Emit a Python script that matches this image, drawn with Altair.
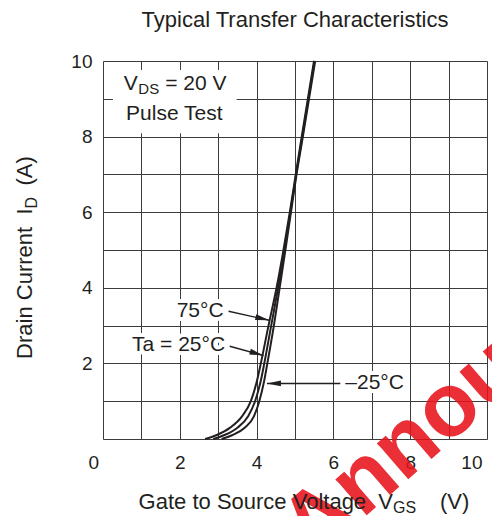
import altair as alt
import pandas as pd

# ---------------- data ----------------
current_a = [0.0, 0.1, 0.3, 0.6, 1.0, 1.5, 2.0, 3.0, 4.0, 5.0, 6.0, 7.0, 8.0, 9.0, 10.0]
vgs_75c = [2.66, 2.95, 3.31, 3.62, 3.85, 4.00, 4.11, 4.31, 4.52, 4.70, 4.865, 5.02, 5.175, 5.335, 5.495]
vgs_25c = [2.87, 3.15, 3.50, 3.78, 3.96, 4.10, 4.20, 4.38, 4.56, 4.73, 4.88, 5.03, 5.19, 5.35, 5.51]
vgs_m25c = [3.09, 3.36, 3.69, 3.93, 4.07, 4.19, 4.28, 4.45, 4.60, 4.75, 4.895, 5.04, 5.205, 5.365, 5.525]
series_names = ["75°C", "25°C", "-25°C"]

x_ticks = list(range(0, 11))
y_ticks = list(range(0, 11))

# curve annotations
label_text = ["75°C", "Ta = 25°C", "–25°C"]
label_v = [3.14, 3.18, 6.31]
label_i = [3.39, 2.49, 1.49]
label_align = ["right", "right", "left"]
arrow_v0 = [3.27, 3.30, 6.18]
arrow_i0 = [3.38, 2.455, 1.47]
arrow_v1 = [4.33, 4.18, 4.27]
arrow_i1 = [3.14, 2.21, 1.47]
arrow_angle = [12.7, 15.6, 180.0]

# condition box
box_v = [0.26]
box_v2 = [3.48]
box_i = [8.09]
box_i2 = [9.76]

watermark_text = ["Announcement"]

INK = "#231f20"
GRID = "#3c3c3c"
FONT = "Liberation Sans"

# ---------------- tables ----------------
rows = []
for name, vs in zip(series_names, [vgs_75c, vgs_25c, vgs_m25c]):
    for v, i in zip(vs, current_a):
        rows.append({"series": name, "vgs": v, "id": i})
curves_df = pd.DataFrame(rows)

labels_df = pd.DataFrame({"t": label_text, "vgs": label_v, "id": label_i, "al": label_align})
arrows_df = pd.DataFrame({"vgs": arrow_v0, "id": arrow_i0, "vgs2": arrow_v1,
                          "id2": arrow_i1, "ang": arrow_angle})
box_df = pd.DataFrame({"vgs": box_v, "vgs2": box_v2, "id": box_i, "id2": box_i2})

xscale = alt.Scale(domain=[0, 10], nice=False, zero=False)
yscale = alt.Scale(domain=[0, 10], nice=False, zero=False)

xaxis = alt.Axis(values=x_ticks, labelExpr="datum.value % 2 == 0 ? datum.label : ''",
                 grid=True, ticks=False, tickSize=0, domain=False,
                 labelFontSize=19, labelPadding=14, labelColor=INK, labelFont=FONT,
                 gridColor=GRID, gridWidth=1, gridOpacity=1,
                 labelOffset={"condition": [{"test": "datum.value == 0", "value": -15},
                                            {"test": "datum.value == 10", "value": -5}],
                              "value": 0})
yaxis = alt.Axis(values=y_ticks,
                 labelExpr="datum.value > 0 && datum.value % 2 == 0 ? datum.label : ''",
                 grid=True, ticks=False, tickSize=0, domain=False,
                 labelFontSize=19, labelPadding=11, labelColor=INK, labelFont=FONT,
                 gridColor=GRID, gridWidth=1, gridOpacity=1)

X = alt.X("vgs:Q", scale=xscale, axis=xaxis, title=None)
Y = alt.Y("id:Q", scale=yscale, axis=yaxis, title=None)

curves = alt.Chart(curves_df).mark_line(color=INK, strokeWidth=2, interpolate="monotone").encode(
    x=X, y=Y, detail="series:N")

box = alt.Chart(box_df).mark_rect(color="white", opacity=1).encode(
    x=X, x2="vgs2:Q", y=Y, y2="id2:Q")

arrow_lines = alt.Chart(arrows_df).mark_rule(color=INK, strokeWidth=1.4).encode(
    x=X, y=Y, x2="vgs2:Q", y2="id2:Q")

arrow_heads = alt.Chart(arrows_df).mark_point(
    shape="M0,0L-2,-0.42L-2,0.42Z", filled=True, size=196, color=INK, opacity=1, strokeWidth=0
).encode(x=alt.X("vgs2:Q", scale=xscale, axis=xaxis, title=None),
         y=alt.Y("id2:Q", scale=yscale, axis=yaxis, title=None),
         angle=alt.Angle("ang:Q", scale=None))


def label_layers(align):
    d = labels_df[labels_df["al"] == align]
    halo = alt.Chart(d).mark_text(align=align, baseline="middle", fontSize=21, font=FONT,
                                  stroke="white", strokeWidth=8, strokeJoin="round",
                                  color="white").encode(x=X, y=Y, text="t:N")
    txt = alt.Chart(d).mark_text(align=align, baseline="middle", fontSize=21, font=FONT,
                                 color=INK).encode(x=X, y=Y, text="t:N")
    return [halo, txt]


# text inside the box (data coordinates)
box_text_df = pd.DataFrame({
    "t": ["V", "DS", "= 20 V", "Pulse Test"],
    "vgs": [0.54, 0.92, 1.62, 0.60],
    "id": [9.23, 9.12, 9.23, 8.45],
    "fs": [21, 15, 21, 21],
})
box_text = alt.Chart(box_text_df).mark_text(align="left", baseline="alphabetic", font=FONT,
                                            color=INK).encode(
    x=X, y=Y, text="t:N", size=alt.Size("fs:Q", scale=None, legend=None))


def px_text(txt, x, y, size, align="left", angle=0):
    return alt.Chart(pd.DataFrame({"t": [txt]})).mark_text(
        align=align, baseline="alphabetic", fontSize=size, angle=angle, font=FONT, color=INK
    ).encode(x=alt.value(x), y=alt.value(y), text="t:N")


watermark = alt.Chart(pd.DataFrame({"t": watermark_text})).mark_text(
    align="left", baseline="alphabetic", fontSize=90, fontWeight="bold", angle=319,
    font=FONT, color="#e8131b", opacity=0.88
).encode(x=alt.value(210), y=alt.value(501), text="t:N")

title = px_text("Typical Transfer Characteristics", 192, -34.5, 22, "center")
xt1 = px_text("Gate to Source Voltage\u00a0\u00a0V", 290, 448, 22, "right")
xt2 = px_text("GS", 290, 452, 16, "left")
xt3 = px_text("(V)", 337, 448, 22, "left")
yt1 = px_text("Drain Current\u00a0\u00a0I", -71, 147.5, 22, "right", 270)
yt2 = px_text("D", -66, 147.5, 16, "left", 270)
yt3 = px_text("(A)", -71, 124.5, 22, "left", 270)

layers = [watermark, box, box_text, curves, arrow_lines, arrow_heads] + label_layers("right") + \
    label_layers("left") + [title, xt1, xt2, xt3, yt1, yt2, yt3]

chart = alt.layer(*layers).properties(
    width=384, height=378,
    autosize=alt.AutoSizeParams(type="none"),
    padding={"left": 95, "top": 53, "right": 5, "bottom": 77},
).configure_view(stroke=INK, strokeWidth=2.5).configure(background="white")

chart.save("out.html", embed_options={"renderer": "svg", "actions": False})
